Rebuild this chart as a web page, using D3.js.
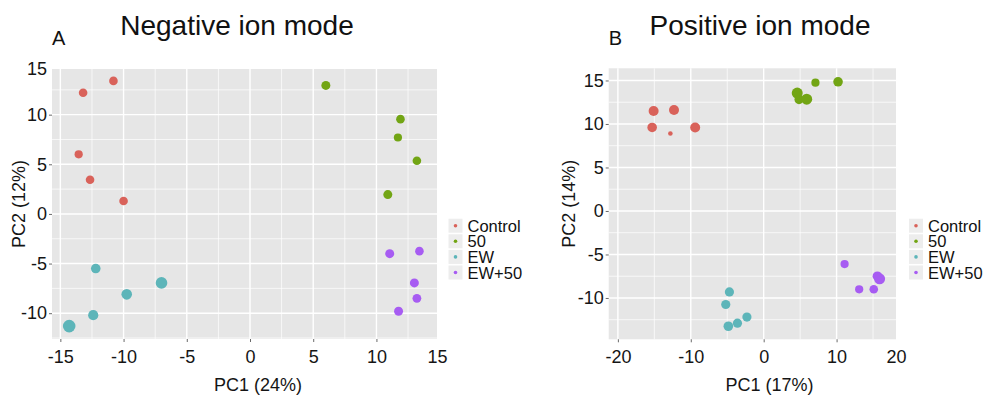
<!DOCTYPE html>
<html>
<head>
<meta charset="utf-8">
<script src="https://cdn.jsdelivr.net/npm/d3@7"></script>
<style>
  body { margin: 0; background: #fff; }
  svg { display: block; font-family: "Liberation Sans", Arial, sans-serif; }
</style>
</head>
<body>
<div id="chart"></div>
<script>
// groups shared by both panels
const groups = ["Control", "50", "EW", "EW+50"];
const groupColors = ["#D9625A", "#72A514", "#5DB5B9", "#A75CF2"];

// negative ion mode (panel A)
const negGroup = [0, 0, 0, 0, 0, 1, 1, 1, 1, 1, 2, 2, 2, 2, 2, 3, 3, 3, 3, 3];
const negPC1 = [-10.8, -13.2, -13.55, -12.65, -10.0,
  6.0, 11.9, 11.7, 13.2, 10.9,
  -12.2, -7.0, -9.75, -12.4, -14.3,
  11.05, 13.4, 13.0, 13.2, 11.75];
const negPC2 = [13.4, 12.2, 6.0, 3.45, 1.3,
  12.95, 9.55, 7.7, 5.35, 1.95,
  -5.5, -6.95, -8.1, -10.2, -11.3,
  -4.0, -3.75, -6.95, -8.5, -9.8];
const negSize = [3, 3, 2.8, 3, 3,
  3.2, 3, 2.8, 3, 3.2,
  3.5, 4.5, 4, 3.8, 5,
  3.2, 3, 3.2, 3.1, 3.2];

// positive ion mode (panel B)
const posGroup = [0, 0, 0, 0, 0, 1, 1, 1, 1, 1, 2, 2, 2, 2, 2, 3, 3, 3, 3, 3];
const posPC1 = [-15.1, -12.3, -15.3, -12.8, -9.4,
  4.6, 4.85, 5.9, 7.1, 10.2,
  -4.7, -5.2, -2.3, -3.6, -4.85,
  11.1, 13.1, 15.1, 15.6, 15.9];
const posPC2 = [11.5, 11.6, 9.6, 8.9, 9.6,
  13.55, 12.8, 12.85, 14.75, 14.85,
  -9.3, -10.75, -12.2, -12.9, -13.25,
  -6.1, -9.0, -9.0, -7.5, -7.8];
const posSize = [3.7, 3.7, 3.5, 1, 3.7,
  4.2, 3.3, 4.2, 2.8, 3.5,
  3.3, 3.3, 3.3, 3.3, 3.5,
  2.8, 2.8, 3, 3.5, 4.2];

// tick values
const negXTicks = [-15, -10, -5, 0, 5, 10, 15];
const negYTicks = [-10, -5, 0, 5, 10, 15];
const posXTicks = [-20, -10, 0, 10, 20];
const posYTicks = [-10, -5, 0, 5, 10, 15];

const W = 990, H = 397;
const PANEL_BG = "#E6E6E6";
const FONT_TICK = 18;

const svg = d3.select("#chart").append("svg")
  .attr("width", W).attr("height", H);
svg.append("rect").attr("width", W).attr("height", H).attr("fill", "#fff");

const radius = d3.scaleLinear().domain([1, 5]).range([2.3, 6.3]);

function minorBreaks(ticks) {
  const out = [];
  for (let i = 0; i < ticks.length - 1; i++) out.push((ticks[i] + ticks[i + 1]) / 2);
  return out;
}

function drawPanel(cfg) {
  const x = d3.scaleLinear().domain(cfg.xDomain).range([cfg.left, cfg.right]).clamp(true);
  const y = d3.scaleLinear().domain(cfg.yDomain).range([cfg.bottom, cfg.top]).clamp(true);
  const inX = (v) => v >= cfg.xDomain[0] && v <= cfg.xDomain[1];
  const inY = (v) => v >= cfg.yDomain[0] && v <= cfg.yDomain[1];

  const g = svg.append("g");

  // panel background
  g.append("rect")
    .attr("x", cfg.left).attr("y", cfg.top)
    .attr("width", cfg.right - cfg.left).attr("height", cfg.bottom - cfg.top)
    .attr("fill", PANEL_BG);

  // minor grid
  const xMinor = minorBreaks(cfg.xTicks).filter(inX);
  const yMinor = minorBreaks([cfg.yTicks[0] - 5].concat(cfg.yTicks)).filter(inY);
  g.selectAll(".vminor").data(xMinor).join("line")
    .attr("x1", (d) => x(d)).attr("x2", (d) => x(d))
    .attr("y1", cfg.top).attr("y2", cfg.bottom)
    .attr("stroke", "#fff").attr("stroke-width", 0.7);
  g.selectAll(".hminor").data(yMinor).join("line")
    .attr("y1", (d) => y(d)).attr("y2", (d) => y(d))
    .attr("x1", cfg.left).attr("x2", cfg.right)
    .attr("stroke", "#fff").attr("stroke-width", 0.7);

  // major grid
  g.selectAll(".vmajor").data(cfg.xTicks.filter((d) => inX(d) && d < cfg.xDomain[1] - 0.3)).join("line")
    .attr("x1", (d) => x(d)).attr("x2", (d) => x(d))
    .attr("y1", cfg.top).attr("y2", cfg.bottom)
    .attr("stroke", "#fff").attr("stroke-width", 1.4);
  g.selectAll(".hmajor").data(cfg.yTicks.filter((d) => inY(d) && d < cfg.yDomain[1] - 0.3)).join("line")
    .attr("y1", (d) => y(d)).attr("y2", (d) => y(d))
    .attr("x1", cfg.left).attr("x2", cfg.right)
    .attr("stroke", "#fff").attr("stroke-width", 1.4);

  // axes
  const xAxis = g.append("g")
    .attr("transform", `translate(0,${cfg.bottom})`)
    .call(d3.axisBottom(x).tickValues(cfg.xTicks).tickSize(3).tickPadding(8).tickFormat(d3.format("d")));
  const yAxis = g.append("g")
    .attr("transform", `translate(${cfg.left},0)`)
    .call(d3.axisLeft(y).tickValues(cfg.yTicks).tickSize(3).tickPadding(2).tickFormat(d3.format("d")));
  [xAxis, yAxis].forEach((a) => {
    a.select(".domain").remove();
    a.selectAll(".tick line").attr("stroke", "#444").attr("stroke-width", 0.8);
    a.selectAll(".tick text")
      .attr("fill", "#151515")
      .attr("font-size", FONT_TICK)
      .attr("font-family", "'Liberation Sans', Arial, sans-serif")
      .text((d) => String(d).replace("\u2212", "-"));
  });
  // no tick marks where the label sits on the panel edge
  xAxis.selectAll(".tick").filter((d) => !inX(d) || d >= cfg.xDomain[1] - 0.3).select("line").remove();
  yAxis.selectAll(".tick").filter((d) => !inY(d) || d >= cfg.yDomain[1] - 0.3).select("line").remove();

  // points
  const pts = cfg.pc1.map((v, i) => ({ x: v, y: cfg.pc2[i], g: cfg.group[i], s: cfg.size[i] }));
  g.selectAll(".pt").data(pts).join("circle")
    .attr("cx", (d) => x(d.x)).attr("cy", (d) => y(d.y))
    .attr("r", (d) => radius(d.s))
    .attr("fill", (d) => groupColors[d.g]);

  // titles
  g.append("text").attr("x", cfg.titleX).attr("y", 35)
    .attr("text-anchor", "middle").attr("font-size", 28).attr("fill", "#111")
    .text(cfg.title);
  g.append("text").attr("x", cfg.left).attr("y", 45)
    .attr("font-size", 20).attr("fill", "#111")
    .text(cfg.letter);

  // axis titles
  g.append("text").attr("x", cfg.xLabelX).attr("y", 391)
    .attr("text-anchor", "middle").attr("font-size", 18).attr("fill", "#151515")
    .text(cfg.xLabel);
  g.append("text")
    .attr("transform", `translate(${cfg.yLabelX},${(cfg.top + cfg.bottom) / 2}) rotate(-90)`)
    .attr("text-anchor", "middle").attr("font-size", 18).attr("fill", "#151515")
    .text(cfg.yLabel);

  // legend
  const lg = g.append("g").attr("transform", `translate(${cfg.legendX},${cfg.legendY})`);
  const item = lg.selectAll(".item").data(groups).join("g")
    .attr("transform", (d, i) => `translate(0,${i * 15.6})`);
  item.append("rect").attr("x", -7).attr("y", -7).attr("width", 14).attr("height", 14)
    .attr("fill", "#EDEDED");
  item.append("circle").attr("r", 1.8).attr("fill", (d, i) => groupColors[i]);
  item.append("text").attr("x", 12).attr("y", 6)
    .attr("font-size", 16.5).attr("fill", "#111")
    .text((d) => d);
}

drawPanel({
  left: 52, right: 437, top: 69, bottom: 339,
  xDomain: [-15.66, 14.79], yDomain: [-12.6, 14.6],
  xTicks: negXTicks, yTicks: negYTicks,
  pc1: negPC1, pc2: negPC2, group: negGroup, size: negSize,
  title: "Negative ion mode", titleX: 237, letter: "A",
  xLabel: "PC1 (24%)", xLabelX: 258, yLabel: "PC2 (12%)", yLabelX: 25,
  legendX: 455.5, legendY: 225.7,
});

drawPanel({
  left: 608.7, right: 896, top: 68.3, bottom: 339.3,
  xDomain: [-21.26, 18.15], yDomain: [-14.75, 16.4],
  xTicks: posXTicks, yTicks: posYTicks,
  pc1: posPC1, pc2: posPC2, group: posGroup, size: posSize,
  title: "Positive ion mode", titleX: 760, letter: "B",
  xLabel: "PC1 (17%)", xLabelX: 769.5, yLabel: "PC2 (14%)", yLabelX: 575,
  legendX: 916, legendY: 225.7,
});
</script>
</body>
</html>
